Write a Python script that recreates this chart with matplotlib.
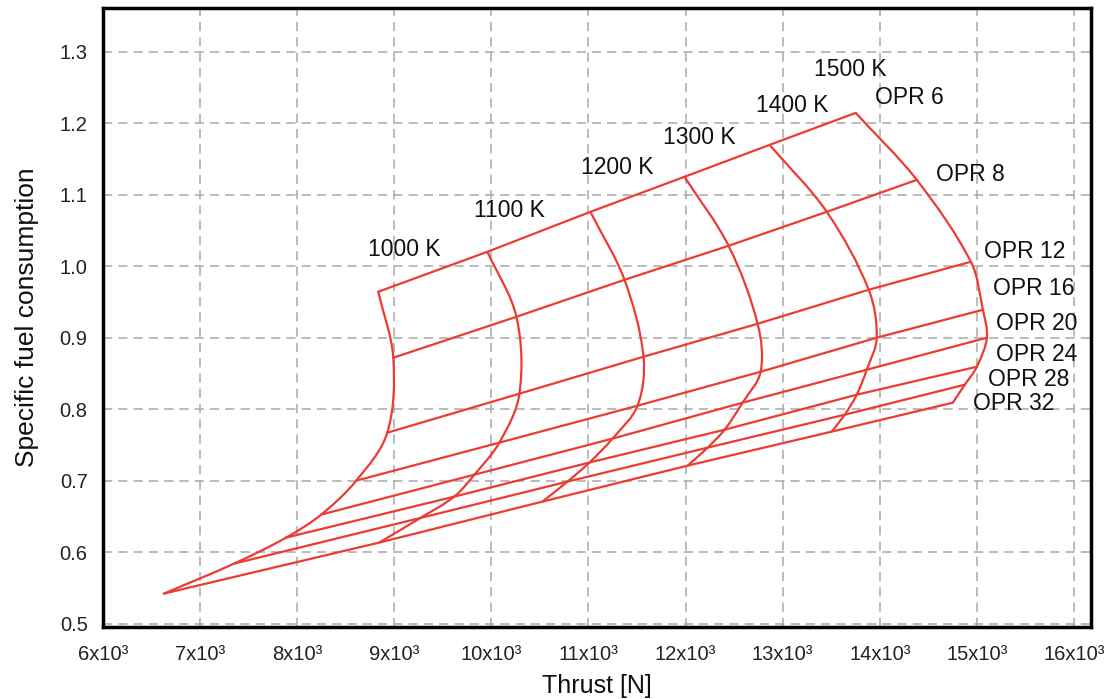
import numpy as np
import matplotlib
matplotlib.use("Agg")
import matplotlib.pyplot as plt
from matplotlib.path import Path
from matplotlib.patches import PathPatch

plt.rcParams["font.family"] = ["Liberation Sans", "DejaVu Sans"]

temps = [1000, 1100, 1200, 1300, 1400, 1500]
oprs = [6, 8, 12, 16, 20, 24, 28, 32]

# carpet nodes, one list per turbine temperature, ordered OPR 6 -> OPR 32
thrust_1000 = [8835, 8990, 8928, 8608, 8247, 7887, 7351, 6629]
sfc_1000 = [0.9645, 0.8722, 0.7673, 0.7002, 0.6527, 0.6206, 0.5842, 0.5423]

thrust_1100 = [9959, 10258, 10289, 10082, 9825, 9618, 9268, 8845]
sfc_1100 = [1.0204, 0.9295, 0.8219, 0.7534, 0.7086, 0.6779, 0.6480, 0.6136]

thrust_1200 = [11020, 11371, 11567, 11505, 11247, 11010, 10784, 10526]
sfc_1200 = [1.0763, 0.9812, 0.8736, 0.8051, 0.7590, 0.7256, 0.6989, 0.6709]

thrust_1300 = [11989, 12443, 12742, 12773, 12587, 12402, 12227, 12020]
sfc_1300 = [1.1253, 1.0288, 0.9197, 0.8526, 0.8093, 0.7715, 0.7464, 0.7212]

thrust_1400 = [12866, 13454, 13886, 13969, 13866, 13763, 13639, 13505]
sfc_1400 = [1.1700, 1.0763, 0.9673, 0.9002, 0.8554, 0.8205, 0.7925, 0.7688]

thrust_1500 = [13752, 14381, 14938, 15062, 15103, 15000, 14876, 14752]
sfc_1500 = [1.2147, 1.1210, 1.0064, 0.9393, 0.9002, 0.8596, 0.8345, 0.8093]

curves_thrust = [thrust_1000, thrust_1100, thrust_1200, thrust_1300, thrust_1400, thrust_1500]
curves_sfc = [sfc_1000, sfc_1100, sfc_1200, sfc_1300, sfc_1400, sfc_1500]

# label anchors
temp_label_x = [9103, 10186, 11299, 12144, 13103, 13701]
temp_label_y = [1.0232, 1.0777, 1.1378, 1.1798, 1.2245, 1.2748]
opr_label_x = [14309, 14928, 15495, 15587, 15618, 15618, 15536, 15381]
opr_label_y = [1.2357, 1.1280, 1.0204, 0.9687, 0.9197, 0.8764, 0.8415, 0.8079]

x_ticks = np.arange(6000, 16001, 1000)
y_ticks = [0.5, 0.6, 0.7, 0.8, 0.9, 1.0, 1.1, 1.2, 1.3]

red = "#ec3b33"
# rough pixels per data unit, so the curve tangents are worked out on screen proportions
sx, sy = 0.097, 715.0


def smooth_path(xs, ys):
    # cubic bezier through the nodes (the constant-T lines are drawn smooth in the source)
    p = np.column_stack([np.asarray(xs, float) * sx, np.asarray(ys, float) * sy])
    n = len(p)
    tang = np.zeros_like(p)
    for i in range(n):
        d = p[min(i + 1, n - 1)] - p[max(i - 1, 0)]
        tang[i] = d / np.hypot(*d)
    verts = [p[0]]
    codes = [Path.MOVETO]
    for i in range(n - 1):
        L = np.hypot(*(p[i + 1] - p[i]))
        verts += [p[i] + tang[i] * L / 3, p[i + 1] - tang[i + 1] * L / 3, p[i + 1]]
        codes += [Path.CURVE4] * 3
    verts = np.array(verts) / [sx, sy]
    return Path(verts, codes)


fig = plt.figure(figsize=(11.13, 6.99), dpi=100)
ax = fig.add_axes([0.0925, 0.103, 0.8877, 0.8856])

# temperature curves
for xs, ys in zip(curves_thrust, curves_sfc):
    ax.add_patch(PathPatch(smooth_path(xs, ys), facecolor="none", edgecolor=red,
                           linewidth=1.6, zorder=3))

# OPR lines through the nodes of every temperature curve
for j in range(len(oprs)):
    xs = [c[j] for c in curves_thrust]
    ys = [c[j] for c in curves_sfc]
    ax.plot(xs, ys, color=red, linewidth=1.6, zorder=3)

for t, lx, ly in zip(temps, temp_label_x, temp_label_y):
    ax.text(lx, ly, f"{t} K", fontsize=16.5, ha="center", va="center", color="#111111")
for p, lx, ly in zip(oprs, opr_label_x, opr_label_y):
    ax.text(lx, ly, f"OPR {p}", fontsize=16.5, ha="center", va="center", color="#111111")

ax.set_xlim(6000, 16175)
ax.set_ylim(0.4955, 1.3615)
ax.set_xticks(x_ticks)
ax.set_xticklabels([f"{int(v / 1000)}x10\u00b3" for v in x_ticks])
ax.set_yticks(y_ticks)
ax.set_yticklabels([f"{v:.1f}" for v in y_ticks])
ax.tick_params(length=0, labelsize=14.5, colors="#222222")
ax.tick_params(axis="x", pad=13)
ax.tick_params(axis="y", pad=11)

ax.grid(True, color="#a8a8a8", linestyle=(0, (6, 4)), linewidth=1.1, zorder=0)
ax.set_axisbelow(True)
for s in ax.spines.values():
    s.set_linewidth(2.5)
    s.set_color("black")

ax.set_xlabel("Thrust [N]", fontsize=18, labelpad=7, color="#111111")
ax.set_ylabel("Specific fuel consumption", fontsize=19, labelpad=15, color="#111111")

fig.savefig("out.png", dpi=100, facecolor="white")
